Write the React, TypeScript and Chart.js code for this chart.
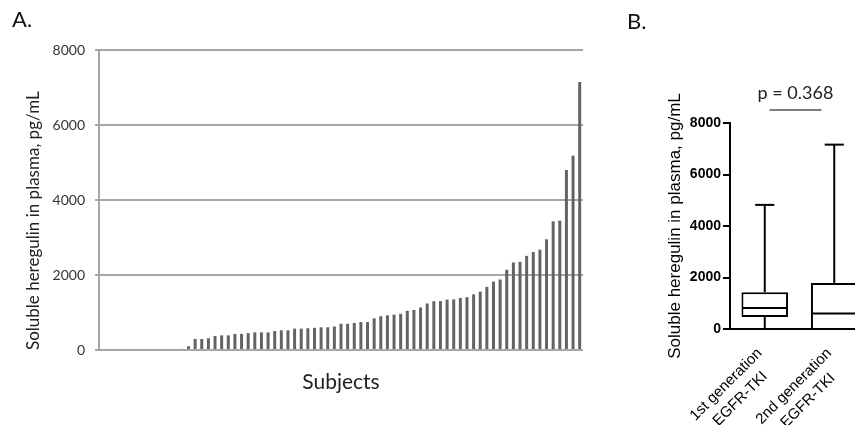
import React, { useEffect, useRef } from "react";
import { Chart, registerables } from "chart.js";

Chart.register(...registerables);

// ---------- Panel A data: soluble heregulin per subject (pg/mL), sorted ----------
const heregulinValues = [
  0, 0, 0, 0, 0, 0, 0, 0, 0, 0, 0, 0,
  30, 100, 295, 295, 315, 375, 390, 390, 430, 430,
  450, 470, 470, 470, 505, 525, 525, 570, 570, 580,
  590, 605, 605, 625, 700, 700, 720, 745, 745, 845,
  900, 925, 942, 965, 1045, 1067, 1135, 1240, 1300, 1305,
  1345, 1350, 1390, 1410, 1484, 1556, 1685, 1822, 1880, 2140,
  2335, 2350, 2510, 2613, 2676, 2951, 3431, 3449, 4800, 5182,
  7150,
];
const subjectLabels = heregulinValues.map((_, i) => `Subject ${i + 1}`);
const yTicksA = [0, 2000, 4000, 6000, 8000];

// ---------- Panel B data: box plots by EGFR-TKI generation ----------
const groupLines = [
  ["1st generation", "EGFR-TKI"],
  ["2nd generation", "EGFR-TKI"],
];
const boxMin = [0, 0];
const boxQ1 = [465, 0];
const boxMedian = [815, 600];
const boxQ3 = [1430, 1790];
const boxMax = [4820, 7160];
const yTicksB = [0, 2000, 4000, 6000, 8000];
const pValueText = "p = 0.368";

const yTitle = "Soluble heregulin in plasma, pg/mL";

const boxPlugin = {
  id: "boxWhiskers",
  afterDatasetsDraw(chart: any) {
    const ctx = chart.ctx;
    const meta = chart.getDatasetMeta(0);
    const ys = chart.scales.y;
    ctx.save();
    ctx.strokeStyle = "#000";
    ctx.lineWidth = 2;
    ctx.lineCap = "butt";
    const line = (x1: number, y1: number, x2: number, y2: number) => {
      ctx.beginPath();
      ctx.moveTo(x1, y1);
      ctx.lineTo(x2, y2);
      ctx.stroke();
    };
    meta.data.forEach((bar: any, i: number) => {
      const cx = bar.x;
      const half = bar.width / 2;
      const capHalf = half * 0.41;
      const yMax = ys.getPixelForValue(boxMax[i]);
      const yQ3 = ys.getPixelForValue(boxQ3[i]);
      const yQ1 = ys.getPixelForValue(boxQ1[i]);
      const yMin = ys.getPixelForValue(boxMin[i]);
      const yMed = ys.getPixelForValue(boxMedian[i]);
      line(cx, yQ3, cx, yMax);
      line(cx - capHalf, yMax, cx + capHalf, yMax);
      if (yMin > yQ1) {
        line(cx, yQ1, cx, yMin);
      }
      line(cx - half + 1, yMed, cx + half - 1, yMed);
    });
    ctx.restore();
  },
  afterDraw(chart: any) {
    const ctx = chart.ctx;
    const xs = chart.scales.x;
    const area = chart.chartArea;
    ctx.save();
    // rotated category labels
    ctx.fillStyle = "#000";
    ctx.font = '15px "Liberation Sans", Arial, sans-serif';
    ctx.textAlign = "center";
    ctx.textBaseline = "middle";
    groupLines.forEach((lines, i) => {
      const tx = xs.getPixelForValue(i);
      const widths = lines.map((l) => ctx.measureText(l).width);
      const maxW = Math.max(...widths);
      ctx.save();
      ctx.translate(tx - 5, area.bottom + 22);
      ctx.rotate(-Math.PI / 4);
      lines.forEach((l, j) => {
        ctx.fillText(l, -maxW / 2, j * 20);
      });
      ctx.restore();
    });
    // significance bar and p value
    const x0 = xs.getPixelForValue(0);
    const x1 = xs.getPixelForValue(1);
    const mid = (x0 + x1) / 2 - 4;
    ctx.strokeStyle = "#555";
    ctx.lineWidth = 1.5;
    ctx.beginPath();
    ctx.moveTo(mid - 26, area.top - 13);
    ctx.lineTo(mid + 26, area.top - 13);
    ctx.stroke();
    ctx.fillStyle = "#222";
    ctx.font = '18px Lato, "Open Sans", sans-serif';
    ctx.textAlign = "center";
    ctx.textBaseline = "alphabetic";
    ctx.fillText(pValueText, mid, area.top - 24.5);
    ctx.restore();
  },
};

export default function App() {
  const refA = useRef<HTMLCanvasElement>(null);
  const refB = useRef<HTMLCanvasElement>(null);

  useEffect(() => {
    const chartA = new Chart(refA.current as HTMLCanvasElement, {
      type: "bar",
      data: {
        labels: subjectLabels,
        datasets: [
          {
            data: heregulinValues,
            backgroundColor: "#636363",
            borderWidth: 0,
            barPercentage: 0.45,
            categoryPercentage: 1,
          },
        ],
      },
      options: {
        responsive: false,
        animation: false,
        layout: { padding: { top: 50, right: 17, bottom: 0, left: 0 } },
        plugins: { legend: { display: false }, tooltip: { enabled: false } },
        scales: {
          x: {
            grid: { display: false },
            border: { display: false },
            ticks: { display: false },
            title: {
              display: true,
              text: "Subjects",
              color: "#222",
              font: { family: "Lato", size: 21 },
              padding: { top: 0, bottom: 30 },
            },
            afterFit: (s: any) => {
              s.height = 75;
            },
          },
          y: {
            min: 0,
            max: 8000,
            afterBuildTicks: (s: any) => {
              s.ticks = yTicksA.map((v) => ({ value: v }));
            },
            ticks: {
              padding: 10,
              color: "#333",
              font: { family: "Lato", size: 14 },
              callback: (v: any) => String(v),
            },
            grid: { color: "#a6a6a6", lineWidth: 2, tickLength: 4 },
            border: { display: true, color: "#a6a6a6", width: 2 },
            title: {
              display: true,
              text: yTitle,
              align: "start",
              color: "#222",
              font: { family: "Lato", size: 17 },
              padding: { top: 23, bottom: 0 },
            },
            afterFit: (s: any) => {
              s.width = 99;
            },
          },
        },
      },
    } as any);

    const chartB = new Chart(refB.current as HTMLCanvasElement, {
      type: "bar",
      data: {
        labels: groupLines.map((l) => l.join(" ")),
        datasets: [
          {
            data: boxQ1.map((v, i) => [v, boxQ3[i]]),
            backgroundColor: "#ffffff",
            borderColor: "#000000",
            borderWidth: 2,
            borderSkipped: (c: any) =>
              boxQ1[c.dataIndex] === 0 ? "start" : false,
            barPercentage: 0.67,
            categoryPercentage: 1,
          },
        ],
      },
      options: {
        responsive: false,
        animation: false,
        layout: { padding: { top: 123, right: 16, bottom: 0, left: 0 } },
        plugins: { legend: { display: false }, tooltip: { enabled: false } },
        scales: {
          x: {
            grid: { display: false },
            border: { display: true, color: "#000", width: 2 },
            ticks: { display: false },
            afterFit: (s: any) => {
              s.height = 96;
            },
          },
          y: {
            min: 0,
            max: 8000,
            afterBuildTicks: (s: any) => {
              s.ticks = yTicksB.map((v) => ({ value: v }));
            },
            ticks: {
              padding: 2,
              color: "#000",
              font: { family: "Liberation Sans", size: 14, weight: "bold" },
              callback: (v: any) => String(v),
            },
            grid: {
              drawOnChartArea: false,
              drawTicks: true,
              tickLength: 7,
              color: "#000",
              lineWidth: 2,
            },
            border: { display: true, color: "#000", width: 2 },
            title: {
              display: true,
              text: yTitle,
              color: "#000",
              font: { family: "Liberation Sans", size: 17 },
              padding: { top: 65, bottom: 0 },
            },
            afterFit: (s: any) => {
              s.width = 130;
            },
          },
        },
      },
      plugins: [boxPlugin],
    } as any);

    return () => {
      chartA.destroy();
      chartB.destroy();
    };
  }, []);

  return (
    <div
      style={{
        position: "fixed",
        left: 0,
        top: 0,
        width: 855,
        height: 425,
        overflow: "hidden",
        background: "#fff",
      }}
    >
      <canvas
        ref={refA}
        width={600}
        height={425}
        style={{ position: "absolute", left: 0, top: 0 }}
      />
      <canvas
        ref={refB}
        width={285}
        height={425}
        style={{ position: "absolute", left: 600, top: 0 }}
      />
      <div
        style={{
          position: "absolute",
          left: 12,
          top: 8,
          font: "22px Lato, sans-serif",
          lineHeight: 1,
          color: "#111",
        }}
      >
        A.
      </div>
      <div
        style={{
          position: "absolute",
          left: 627,
          top: 10,
          font: "22px Lato, sans-serif",
          lineHeight: 1,
          color: "#111",
        }}
      >
        B.
      </div>
    </div>
  );
}
